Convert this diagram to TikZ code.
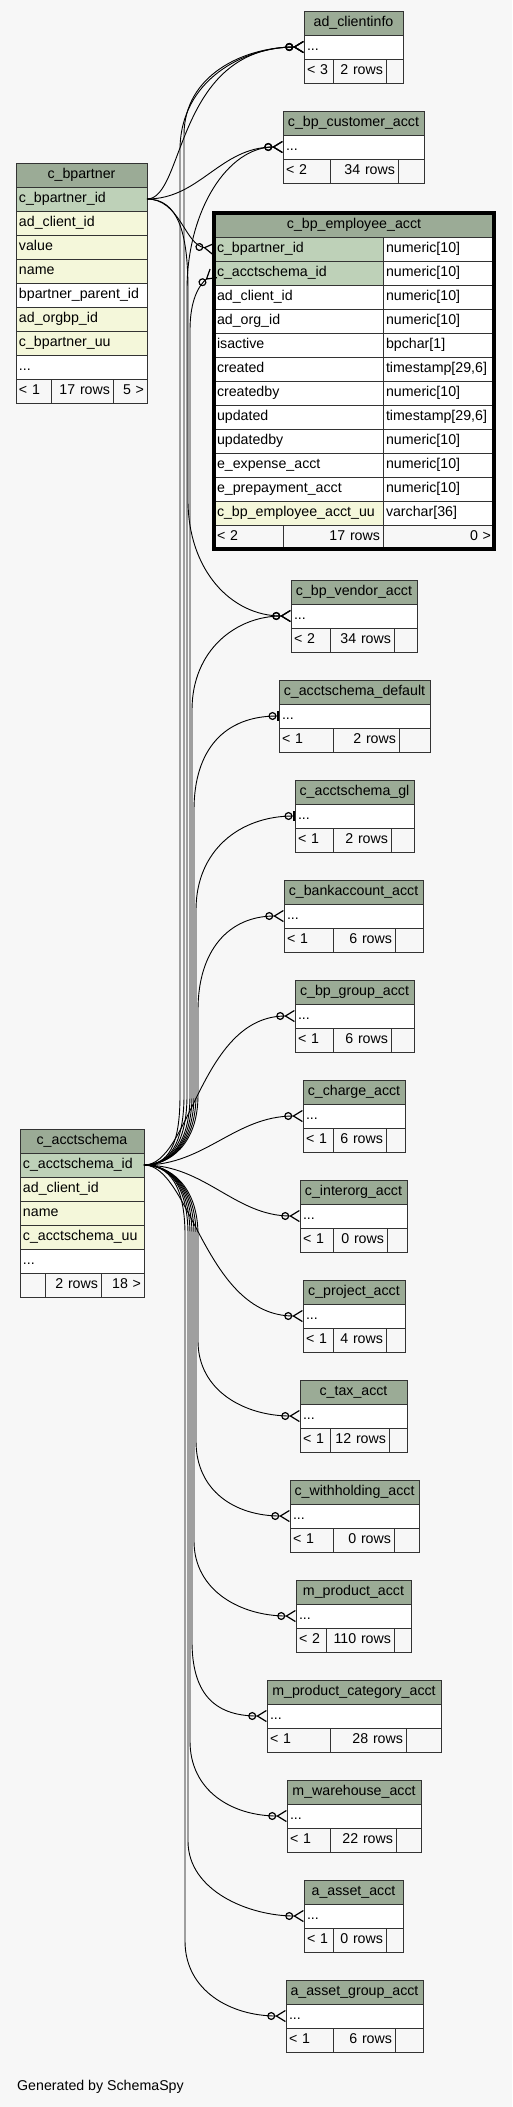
\documentclass[tikz,border=0pt]{standalone}
\usepackage{fontspec}
\setmainfont{Liberation Sans}
\usetikzlibrary{arrows.meta}
\definecolor{schemabg}{HTML}{F7F7F7}
\definecolor{headfill}{HTML}{9BAB96}
\definecolor{keyfill}{HTML}{BED1B8}
\definecolor{indexfill}{HTML}{F4F7DA}
\definecolor{cellline}{HTML}{333333}

\begin{document}
\begin{tikzpicture}[x=1pt, y=-1pt,
    wd/.code={\pgfmathsetmacro\cellw{#1-6}\edef\cellset{\noexpand\tikzset{text width=\cellw pt}}\cellset},
    cell/.style={draw=cellline, line width=0.9pt, anchor=north west, minimum height=24pt, inner xsep=3pt, inner ysep=0pt, outer sep=0pt, font=\fontsize{14.2}{16}\selectfont, text height=10.5pt, text depth=3pt},
    headcell/.style={cell, fill=headfill, align=center},
    keycell/.style={cell, fill=keyfill, align=left},
    idxcell/.style={cell, fill=indexfill, align=left},
    plaincell/.style={cell, fill=white, align=left},
    footl/.style={cell, fill=schemabg, align=left},
    footr/.style={cell, fill=schemabg, align=right},
    rel/.style={line width=0.9pt, black},
    many/.style={rel, -{Circle[open,length=8pt,width=8pt,line width=1.2pt] Straight Barb[reversed,length=9pt,width=11pt,line width=1.2pt]}},
    one/.style={rel, -{Circle[open,length=8pt,width=8pt,line width=1.2pt] Bar[width=10pt,line width=2.5pt]}}
]

\useasboundingbox (0,0) rectangle (512,2107);
\fill[schemabg] (0,0) rectangle (512,2107);

\node[headcell, wd=131] (bp) at (16,163) {c\_bpartner};
\node[keycell, wd=131] (bp-id) at (16,187) {c\_bpartner\_id};
\node[idxcell, wd=131] (bp-client) at (16,211) {ad\_client\_id};
\node[idxcell, wd=131] (bp-value) at (16,235) {value};
\node[idxcell, wd=131] (bp-name) at (16,259) {name};
\node[plaincell, wd=131] (bp-parent) at (16,283) {bpartner\_parent\_id};
\node[idxcell, wd=131] (bp-org) at (16,307) {ad\_orgbp\_id};
\node[idxcell, wd=131] (bp-uu) at (16,331) {c\_bpartner\_uu};
\node[plaincell, wd=131] (bp-more) at (16,355) {...};
\node[footl, wd=35] (bp-f1) at (16,379) {< 1};
\node[footr, wd=62] (bp-f2) at (51,379) {17 rows};
\node[footr, wd=34] (bp-f3) at (113,379) {5 >};

\node[headcell, wd=124] (as) at (20,1129) {c\_acctschema};
\node[keycell, wd=124] (as-id) at (20,1153) {c\_acctschema\_id};
\node[idxcell, wd=124] (as-client) at (20,1177) {ad\_client\_id};
\node[idxcell, wd=124] (as-name) at (20,1201) {name};
\node[idxcell, wd=124] (as-uu) at (20,1225) {c\_acctschema\_uu};
\node[plaincell, wd=124] (as-more) at (20,1249) {...};
\node[footl, wd=25] (as-f1) at (20,1273) {};
\node[footr, wd=56] (as-f2) at (45,1273) {2 rows};
\node[footr, wd=43] (as-f3) at (101,1273) {18 >};

\node[headcell, wd=280] (emp) at (214,213) {c\_bp\_employee\_acct};
\foreach \c/\t/\f [count=\i] in {c\_bpartner\_id/numeric[10]/keyfill, c\_acctschema\_id/numeric[10]/keyfill,
    ad\_client\_id/numeric[10]/white, ad\_org\_id/numeric[10]/white, isactive/bpchar[1]/white,
    {created/timestamp[29,6]/white}, createdby/numeric[10]/white, {updated/timestamp[29,6]/white},
    updatedby/numeric[10]/white, e\_expense\_acct/numeric[10]/white, e\_prepayment\_acct/numeric[10]/white,
    c\_bp\_employee\_acct\_uu/varchar[36]/indexfill}
{
  \node[cell, fill=\f, align=left, wd=169] (emp-\i) at (214,213+24*\i) {\c};
  \node[plaincell, wd=111] (emp-t\i) at (383,213+24*\i) {\t};
}
\node[footl, wd=69] (emp-f1) at (214,525) {< 2};
\node[footr, wd=100] (emp-f2) at (283,525) {17 rows};
\node[footr, wd=111] (emp-f3) at (383,525) {0 >};
\draw[line width=3.5pt] (emp.north west) rectangle (emp-f3.south east);

\foreach \n/\lbl/\xa/\xb/\yt/\ca/\cb/\fa/\fb in {
    clientinfo/ad\_clientinfo/304/403/11/333/386/< 3/2 rows,
    customer/c\_bp\_customer\_acct/283/424/111/330/398/< 2/34 rows,
    vendor/c\_bp\_vendor\_acct/291/417/580/330/394/< 2/34 rows,
    default/c\_acctschema\_default/279/430/680/333/399/< 1/2 rows,
    gl/c\_acctschema\_gl/295/414/780/333/391/< 1/2 rows,
    bank/c\_bankaccount\_acct/284/423/880/333/395/< 1/6 rows,
    group/c\_bp\_group\_acct/295/414/980/333/391/< 1/6 rows,
    charge/c\_charge\_acct/303/405/1080/333/386/< 1/6 rows,
    interorg/c\_interorg\_acct/300/407/1180/333/387/< 1/0 rows,
    project/c\_project\_acct/303/405/1280/333/386/< 1/4 rows,
    tax/c\_tax\_acct/300/407/1380/330/389/< 1/12 rows,
    withholding/c\_withholding\_acct/290/419/1480/333/394/< 1/0 rows,
    product/m\_product\_acct/296/411/1580/326/394/< 2/110 rows,
    prodcat/m\_product\_category\_acct/267/441/1680/330/406/< 1/28 rows,
    warehouse/m\_warehouse\_acct/287/421/1780/330/396/< 1/22 rows,
    asset/a\_asset\_acct/304/403/1880/333/386/< 1/0 rows,
    assetgroup/a\_asset\_group\_acct/286/423/1980/333/395/< 1/6 rows}
{
  \node[headcell, wd=\xb-\xa] (\n) at (\xa,\yt) {\lbl};
  \node[plaincell, wd=\xb-\xa] (\n-r) at (\xa,\yt+24) {...};
  \node[footl, wd=\ca-\xa] (\n-f1) at (\xa,\yt+48) {\fa};
  \node[footr, wd=\cb-\ca] (\n-f2) at (\ca,\yt+48) {\fb};
  \node[footr, wd=\xb-\cb] (\n-f3) at (\cb,\yt+48) {};
}

\draw[many] (bp-id.east) .. controls (185,199) and (175,47) .. (clientinfo-r.west);
\draw[many] (bp-id.east) .. controls (200,199) and (220,147) .. (customer-r.west);
\draw[many] (bp-id.east) .. controls (180,199) and (185,245) .. (emp-1.west);
\draw[many] (bp-id.east) .. controls +(30,0) and +(0,-60) .. (188,290) -- (188,500) .. controls +(0,70) and +(-60,0) .. (vendor-r.west);

\draw[many] (as-id.east) .. controls +(25,0) and +(0,50) .. (180,1095) -- (180,150) .. controls +(0,-70) and +(-60,0) .. (clientinfo-r.west);
\draw[many] (as-id.east) .. controls +(25,0) and +(0,50) .. (184,1095) -- (184,135) .. controls +(0,-60) and +(-60,0) .. (clientinfo-r.west);
\draw[many] (as-id.east) .. controls +(25,0) and +(0,50) .. (187,1095) -- (187,290) .. controls +(0,-80) and +(-55,0) .. (customer-r.west);
\draw[many] (as-id.east) .. controls +(25,0) and +(0,50) .. (190,1095) -- (190,330) .. controls +(0,-30) and +(-15,12) .. (emp-2.west);
\draw[many] (as-id.east) .. controls +(25,0) and +(0,50) .. (192,1095) -- (192,710) .. controls +(0,-60) and +(-55,0) .. (vendor-r.west);
\draw[one] (as-id.east) .. controls +(25,0) and +(0,50) .. (194,1095) -- (194,810) .. controls +(0,-60) and +(-55,0) .. (default-r.west);
\draw[one] (as-id.east) .. controls +(25,0) and +(0,50) .. (196,1095) -- (196,910) .. controls +(0,-60) and +(-55,0) .. (gl-r.west);
\draw[many] (as-id.east) .. controls +(25,0) and +(0,50) .. (198,1095) -- (198,1010) .. controls +(0,-60) and +(-55,0) .. (bank-r.west);
\draw[many] (as-id.east) .. controls (190,1165) and (200,1016) .. (group-r.west);
\draw[many] (as-id.east) .. controls (205,1165) and (235,1116) .. (charge-r.west);
\draw[many] (as-id.east) .. controls (205,1165) and (235,1216) .. (interorg-r.west);
\draw[many] (as-id.east) .. controls (190,1165) and (205,1316) .. (project-r.west);
\draw[many] (as-id.east) .. controls +(25,0) and +(0,-50) .. (198,1235) -- (198,1341) .. controls +(0,50) and +(-55,0) .. (tax-r.west);
\draw[many] (as-id.east) .. controls +(25,0) and +(0,-50) .. (196,1235) -- (196,1441) .. controls +(0,50) and +(-55,0) .. (withholding-r.west);
\draw[many] (as-id.east) .. controls +(25,0) and +(0,-50) .. (194,1235) -- (194,1541) .. controls +(0,50) and +(-55,0) .. (product-r.west);
\draw[many] (as-id.east) .. controls +(25,0) and +(0,-50) .. (192,1235) -- (192,1641) .. controls +(0,50) and +(-55,0) .. (prodcat-r.west);
\draw[many] (as-id.east) .. controls +(25,0) and +(0,-50) .. (190,1235) -- (190,1741) .. controls +(0,50) and +(-55,0) .. (warehouse-r.west);
\draw[many] (as-id.east) .. controls +(25,0) and +(0,-50) .. (188,1235) -- (188,1841) .. controls +(0,50) and +(-55,0) .. (asset-r.west);
\draw[many] (as-id.east) .. controls +(25,0) and +(0,-50) .. (185,1235) -- (185,1941) .. controls +(0,50) and +(-55,0) .. (assetgroup-r.west);

\node[anchor=west, inner sep=0pt, font=\fontsize{14.2}{16}\selectfont] (credit) at (17,2087) {Generated by SchemaSpy};

\end{tikzpicture}
\end{document}
